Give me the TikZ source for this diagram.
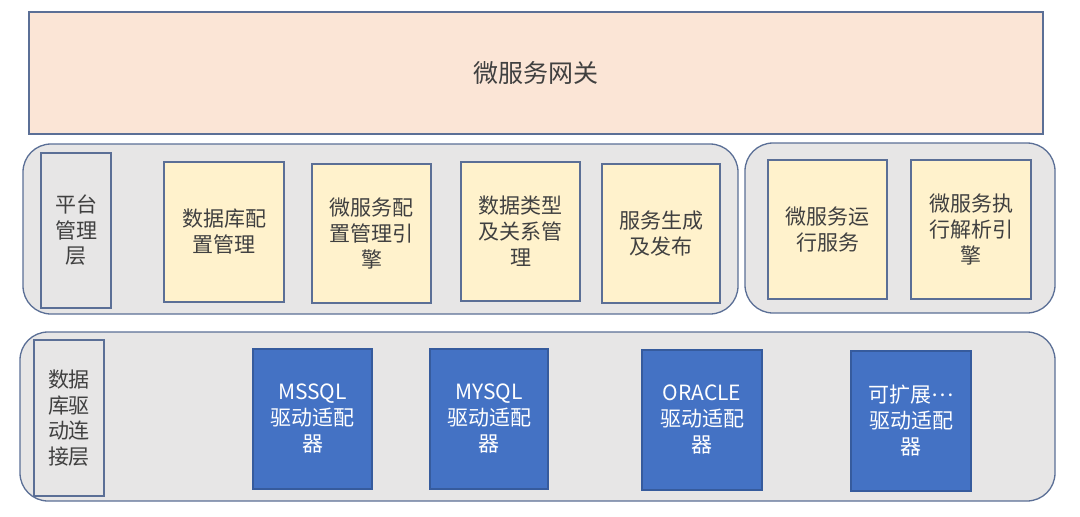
\documentclass[tikz,border=0pt]{standalone}
\usepackage{fontspec}
\setmainfont{Noto Sans CJK SC}
\definecolor{peach}{HTML}{FBE5D6}
\definecolor{grp}{HTML}{E7E6E6}
\definecolor{yel}{HTML}{FFF2CC}
\definecolor{blu}{HTML}{4472C4}
\definecolor{edge}{HTML}{5B6F96}
\definecolor{txt}{HTML}{404040}
\tikzset{
  base/.style={draw=edge, line width=1.3pt, anchor=north west, inner sep=0pt, outer sep=0pt, align=center},
  gw/.style={base, fill=peach, font=\fontsize{25}{30}\selectfont, text=txt},
  group/.style={base, fill=grp, rounded corners=28pt},
  lbl/.style={base, fill=grp, font=\fontsize{21}{25.5}\selectfont, text=txt},
  ybox/.style={base, fill=yel, font=\fontsize{21}{26}\selectfont, text=txt},
  bbox/.style={base, fill=blu, draw=blu!80!black, font=\fontsize{21}{26}\selectfont, text=white},
}
\begin{document}
\begin{tikzpicture}[x=1pt,y=-1pt]
\useasboundingbox (0,0) rectangle (1080,517);
% gateway
\node[gw, minimum width=1014pt, minimum height=122pt] (gw) at (29,12) {微服务网关};
% platform groups
\node[group, minimum width=715pt, minimum height=170pt] (pg) at (23,144) {};
\node[group, minimum width=310pt, minimum height=170pt] (rg) at (745,143) {};
\node[lbl, minimum width=70pt, minimum height=155pt] (pl) at (41,153) {平台\\管理\\层};
\node[ybox, minimum width=120pt, minimum height=140pt] (b1) at (164,162) {数据库配\\置管理};
\node[ybox, minimum width=119pt, minimum height=139pt] (b2) at (312,164) {微服务配\\置管理引\\擎};
\node[ybox, minimum width=119pt, minimum height=139pt] (b3) at (461,162) {数据类型\\及关系管\\理};
\node[ybox, minimum width=118pt, minimum height=139pt] (b4) at (602,164) {服务生成\\及发布};
\node[ybox, minimum width=119pt, minimum height=139pt] (b5) at (768,160) {微服务运\\行服务};
\node[ybox, minimum width=120pt, minimum height=139pt] (b6) at (911,160) {微服务执\\行解析引\\擎};
% driver layer
\node[group, minimum width=1035pt, minimum height=169pt] (dg) at (20,332) {};
\node[lbl, minimum width=70pt, minimum height=156pt] (dl) at (34,340) {数据\\库驱\\动连\\接层};
\node[bbox, minimum width=119pt, minimum height=140pt] (d1) at (253,349) {MSSQL\\驱动适配\\器};
\node[bbox, minimum width=118pt, minimum height=140pt] (d2) at (430,349) {MYSQL\\驱动适配\\器};
\node[bbox, minimum width=120pt, minimum height=140pt] (d3) at (642,350) {ORACLE\\驱动适配\\器};
\node[bbox, minimum width=120pt, minimum height=140pt] (d4) at (851,351) {可扩展\raisebox{0.3em}{…}\\驱动适配\\器};
\end{tikzpicture}
\end{document}
